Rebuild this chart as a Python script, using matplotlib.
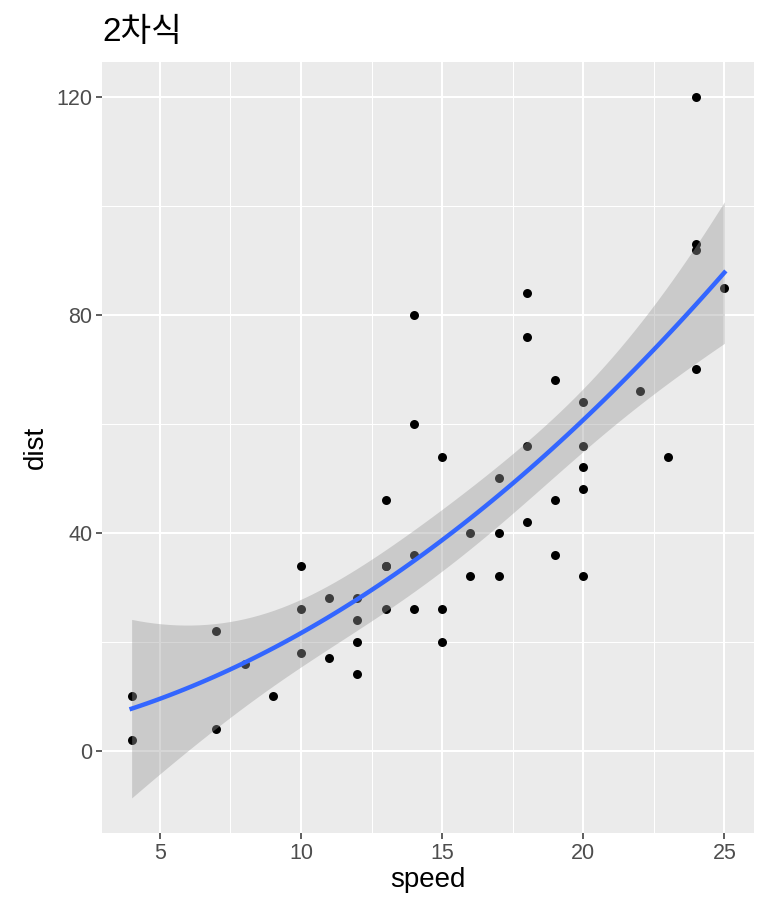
import numpy as np
import matplotlib.pyplot as plt

# cars data (speed, dist)
speed = np.array([4, 4, 7, 7, 8, 9, 10, 10, 10, 11, 11, 12, 12, 12, 12, 13, 13, 13, 13,
                  14, 14, 14, 14, 15, 15, 15, 16, 16, 17, 17, 17, 18, 18, 18, 18, 19,
                  19, 19, 20, 20, 20, 20, 20, 22, 23, 24, 24, 24, 24, 25])
dist = np.array([2, 10, 4, 22, 16, 10, 18, 26, 34, 17, 28, 14, 20, 24, 28, 26, 34, 34,
                 46, 26, 36, 60, 80, 20, 26, 54, 32, 40, 32, 40, 50, 42, 56, 76, 84,
                 36, 46, 68, 32, 48, 52, 56, 64, 66, 54, 70, 92, 93, 120, 85])

x_ticks = [5, 10, 15, 20, 25]
y_ticks = [0, 40, 80, 120]
title = '2차식'

T_975 = 2.0117  # qt(0.975, df=47)


def quad_fit(x, y, n=80):
    X = np.column_stack([np.ones_like(x), x, x ** 2]).astype(float)
    beta, *_ = np.linalg.lstsq(X, y.astype(float), rcond=None)
    resid = y - X @ beta
    df = len(x) - 3
    sigma2 = resid @ resid / df
    cov = sigma2 * np.linalg.inv(X.T @ X)
    xs = np.linspace(x.min(), x.max(), n)
    Xs = np.column_stack([np.ones_like(xs), xs, xs ** 2])
    fit = Xs @ beta
    se = np.sqrt(np.einsum('ij,jk,ik->i', Xs, cov, Xs))
    return xs, fit, fit - T_975 * se, fit + T_975 * se


xs, fit, lo, hi = quad_fit(speed, dist)

plt.rcParams['font.family'] = ['Liberation Sans', 'Noto Sans CJK KR']

fig = plt.figure(figsize=(7.68, 9.21), dpi=100)
ax = fig.add_axes([102 / 768, 1 - 833 / 921, (754 - 102) / 768, (833 - 62) / 921])
ax.set_facecolor('#EBEBEB')
for s in ax.spines.values():
    s.set_visible(False)

ax.scatter(speed, dist, s=42, color='black', zorder=3, linewidths=0)
ax.fill_between(xs, lo, hi, color='#999999', alpha=0.4, linewidth=0, zorder=4)
ax.plot(xs, fit, color='#3366FF', lw=3.2, zorder=5)

xmin, xmax = speed.min(), speed.max()
xpad = (xmax - xmin) * 0.05
ax.set_xlim(xmin - xpad, xmax + xpad)
ymin, ymax = min(lo.min(), dist.min()), max(hi.max(), dist.max())
ypad = (ymax - ymin) * 0.05
ax.set_ylim(ymin - ypad, ymax + ypad)

ax.set_xticks(x_ticks)
ax.set_yticks(y_ticks)
ax.set_xticks([7.5, 12.5, 17.5, 22.5], minor=True)
ax.set_yticks([20, 60, 100], minor=True)
ax.grid(which='major', color='white', lw=1.5, zorder=0)
ax.grid(which='minor', color='white', lw=0.75, zorder=0)
ax.set_axisbelow(True)
ax.tick_params(which='major', length=4, width=1.1, color='#333333',
               labelcolor='#4D4D4D', labelsize=15.5, pad=3)
ax.tick_params(which='minor', length=0)

ax.set_xlabel('speed', fontsize=20, color='black', labelpad=2)
ax.set_ylabel('dist', fontsize=20, color='black', labelpad=5)
fig.text(102 / 768, 1 - 32 / 921, title, fontsize=24, color='black',
         ha='left', va='center')

fig.savefig('out.png', dpi=100)
